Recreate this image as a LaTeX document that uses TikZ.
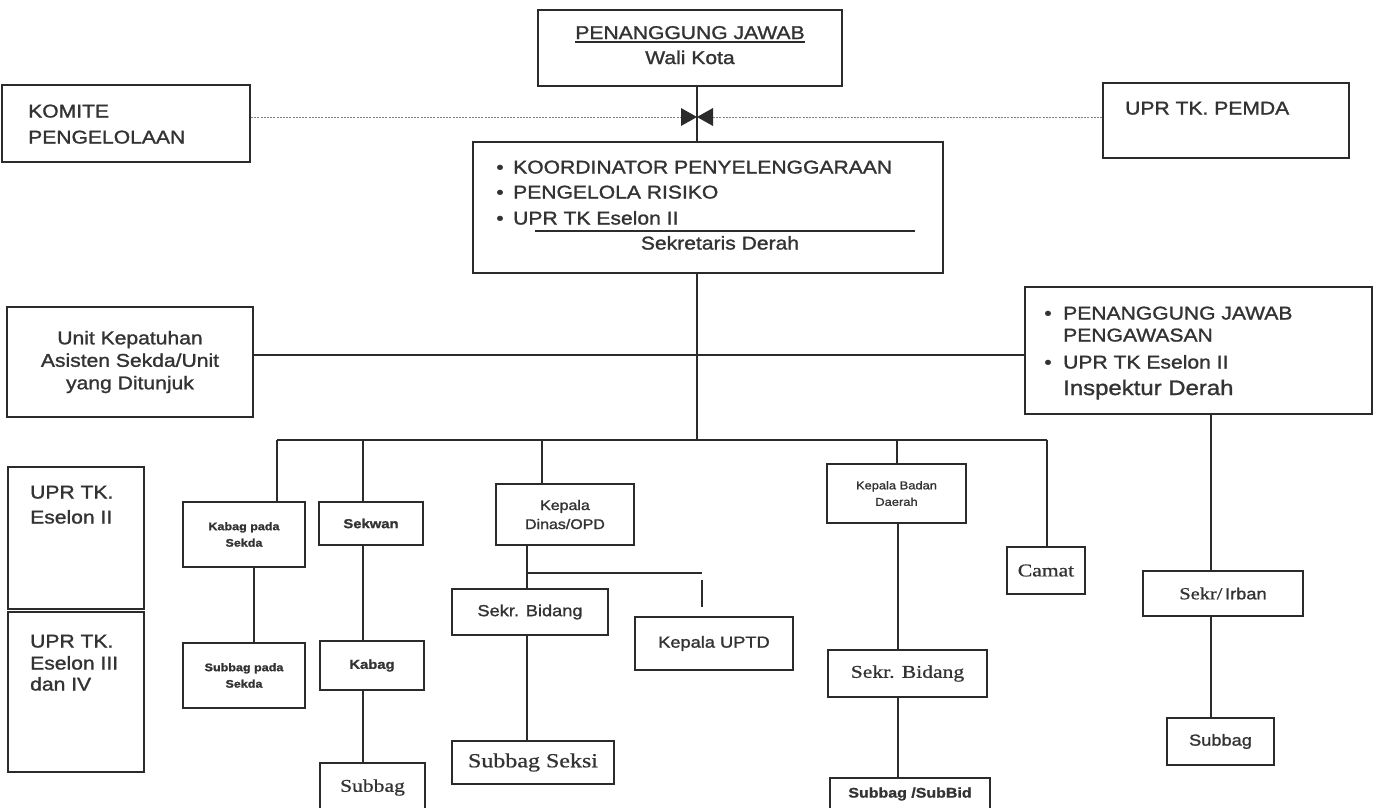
\documentclass[tikz,border=0pt]{standalone}
\usepackage{fontspec}
\setmainfont[FakeStretch=1.14,FakeBold=1.3]{Liberation Sans}
\newfontfamily\serfam[FakeStretch=1.2,FakeBold=0.8]{Liberation Serif}
\usetikzlibrary{arrows.meta}
\definecolor{ink}{HTML}{2B2B2B}
\definecolor{tcol}{HTML}{333333}
\definecolor{dotc}{HTML}{808080}
\newcommand\szA{\fontsize{18.5}{23}\selectfont}
\newcommand\szB{\fontsize{21}{25}\selectfont}
\newcommand\szSer{\serfam\fontsize{18}{22}\selectfont}
\newcommand\bx[7][]{\node[box,#1,minimum width={#4-#2},minimum height={#5-#3}] (#6) at ({(#2+#4)/2},{(#3+#5)/2}) {#7};}
\tikzset{
  box/.style={draw=ink,line width=1.8pt,inner sep=0pt,text=tcol,align=center,font=\szA},
  conn/.style={draw=ink,line width=1.8pt},
  dotl/.style={draw=dotc,line width=0.9pt,dash pattern=on 2pt off 1.2pt},
  tx/.style={text=tcol,inner sep=0pt,font=\szA}
}
\begin{document}
\begin{tikzpicture}[x=1pt,y=-1pt]
\useasboundingbox (0,0) rectangle (1379,807);
\fill[white] (0,0) rectangle (1379,807);
\clip (0,0) rectangle (1379,807);

% top level boxes
\bx{538}{10}{842}{86}{wk}{}
\node[tx,anchor=base] (wkt1) at (690,39) {PENANGGUNG JAWAB};
\draw[ink,line width=1.2pt] ([yshift=-3pt]wkt1.base west) -- ([yshift=-3pt]wkt1.base east);
\node[tx,anchor=base] (wkt2) at (690,64) {Wali Kota};

\bx{2}{85}{250}{162}{kom}{}
\node[tx,anchor=base west] (komt1) at (28,117.5) {KOMITE};
\node[tx,anchor=base west] (komt2) at (28,143.5) {PENGELOLAAN};

\bx{1103}{83}{1349}{158}{pemda}{}
\node[tx,anchor=base west] (pemdat) at (1125,114.5) {UPR TK. PEMDA};

\bx{473}{142}{943}{273}{koor}{}
\node[tx,anchor=base] (kb1) at (500,173.5) {•};
\node[tx,anchor=base] (kb2) at (500,198.5) {•};
\node[tx,anchor=base] (kb3) at (500,224.5) {•};
\node[tx,anchor=base west] (kt1) at (513,173.5) {KOORDINATOR PENYELENGGARAAN};
\node[tx,anchor=base west] (kt2) at (513,198.5) {PENGELOLA RISIKO};
\node[tx,anchor=base west] (kt3) at (513,224.5) {UPR TK Eselon II};
\coordinate (ula) at (535,231);
\coordinate (ulb) at (915,231);
\draw[ink,line width=1.4pt] (ula) -- (ulb);
\node[tx,anchor=base] (kt4) at (720,249.5) {Sekretaris Derah};

% dotted link with two tips meeting at the stem
\coordinate (junc) at (697,117);
\draw[dotl] (kom.east |- junc) -- ([xshift=-14pt]junc);
\draw[dotl] (pemda.west |- junc) -- ([xshift=14pt]junc);
\draw[conn] (wk.south -| junc) -- (koor.north -| junc);
\fill[ink] ([xshift=-16pt,yshift=9pt]junc) -- ([xshift=-16pt,yshift=-9pt]junc) -- (junc) -- cycle;
\fill[ink] ([xshift=16pt,yshift=9pt]junc) -- ([xshift=16pt,yshift=-9pt]junc) -- (junc) -- cycle;

% second level
\bx[font={\fontsize{18.5}{22.5}\selectfont}]{7}{307}{253}{417}{uk}{Unit Kepatuhan\\Asisten Sekda/Unit\\yang Ditunjuk}
\bx{1025}{287}{1372}{414}{pj}{}
\node[tx,anchor=base] (pb1) at (1048,319.5) {•};
\node[tx,anchor=base] (pb2) at (1048,368.5) {•};
\node[tx,anchor=base west] (pt1) at (1063,319.5) {PENANGGUNG JAWAB};
\node[tx,anchor=base west] (pt2) at (1063,341.5) {PENGAWASAN};
\node[tx,anchor=base west] (pt3) at (1063,368.5) {UPR TK Eselon II};
\node[tx,anchor=base west,font=\szB] (pt4) at (1063,395) {Inspektur Derah};

\coordinate (hy) at (697,355);
\coordinate (busM) at (697,440);
\draw[conn] (koor.south -| junc) -- (busM);
\draw[conn] (uk.east |- hy) -- (pj.west |- hy);

% left column
\bx{8}{467}{144}{609}{e2}{}
\node[tx,anchor=base west] (e2t1) at (30,498.5) {UPR TK.};
\node[tx,anchor=base west] (e2t2) at (30,523.5) {Eselon II};
\bx{8}{612}{144}{772}{e3}{}
\node[tx,anchor=base west] (e3t1) at (30,647.5) {UPR TK.};
\node[tx,anchor=base west] (e3t2) at (30,669.5) {Eselon III};
\node[tx,anchor=base west] (e3t3) at (30,690.5) {dan IV};

% bus
\coordinate (d1) at (277,440);
\coordinate (d2) at (363,440);
\coordinate (d3) at (542,440);
\coordinate (d4) at (897,440);
\coordinate (d5) at (1047,440);
\draw[conn] (d1) -- (d5);

% third level
\bx[font={\fontsize{11}{16.5}\selectfont\bfseries}]{183}{502}{305}{567}{kps}{Kabag pada\\Sekda}
\bx[font={\fontsize{13}{16}\selectfont\bfseries}]{319}{502}{423}{545}{sekwan}{Sekwan}
\bx[font={\fontsize{14}{19}\selectfont}]{496}{484}{634}{545}{kd}{Kepala\\Dinas/OPD}
\bx[font={\fontsize{11.3}{16.5}\selectfont}]{827}{464}{966}{523}{kbd}{Kepala Badan\\Daerah}
\bx[font=\szSer]{1007}{547}{1085}{594}{camat}{Camat}

\draw[conn] (d1) -- (kps.north -| d1);
\draw[conn] (d2) -- (sekwan.north -| d2);
\draw[conn] (d3) -- (kd.north -| d3);
\draw[conn] (d4) -- (kbd.north -| d4);
\draw[conn] (d5) -- (camat.north -| d5);

% fourth level
\bx[font={\fontsize{11}{16.5}\selectfont\bfseries}]{183}{643}{305}{708}{sps}{Subbag pada\\Sekda}
\bx[font={\fontsize{13}{16}\selectfont\bfseries}]{320}{641}{424}{690}{kabag}{Kabag}
\bx[font=\szSer]{320}{763}{425}{812}{subk}{Subbag}
\bx[font={\fontsize{16}{19}\selectfont}]{452}{589}{608}{635}{sbd}{Sekr. Bidang}
\bx[font={\fontsize{16}{19}\selectfont}]{635}{617}{793}{670}{uptd}{Kepala UPTD}
\bx[font={\serfam\fontsize{20}{24}\selectfont}]{452}{741}{614}{784}{sseksi}{Subbag Seksi}
\bx[font=\szSer]{828}{650}{987}{697}{sbb}{Sekr. Bidang}
\bx[font={\fontsize{14}{17}\selectfont\bfseries}]{830}{778}{990}{810}{ssb}{Subbag /SubBid}
\bx[font={\fontsize{16}{19}\selectfont}]{1143}{571}{1303}{616}{irban}{{\serfam\fontsize{17}{19}\selectfont Sekr/}\,Irban}
\bx[font={\fontsize{16}{19}\selectfont}]{1167}{718}{1274}{765}{subr}{Subbag}

\coordinate (v1) at (254,600);
\draw[conn] (kps.south -| v1) -- (sps.north -| v1);
\draw[conn] (sekwan.south -| d2) -- (kabag.north -| d2);
\draw[conn] (kabag.south -| d2) -- (subk.north -| d2);

\coordinate (v3) at (527,573);
\coordinate (br) at (702,573);
\coordinate (brA) at (702,580);
\coordinate (brB) at (702,607);
\draw[conn] (kd.south -| v3) -- (sbd.north -| v3);
\draw[conn] (v3) -- (br);
\draw[conn] (brA) -- (brB);
\draw[conn] (sbd.south -| v3) -- (sseksi.north -| v3);

\coordinate (v4) at (898,600);
\draw[conn] (kbd.south -| v4) -- (sbb.north -| v4);
\draw[conn] (sbb.south -| v4) -- (ssb.north -| v4);

\coordinate (v6) at (1211,600);
\draw[conn] (pj.south -| v6) -- (irban.north -| v6);
\draw[conn] (irban.south -| v6) -- (subr.north -| v6);
\end{tikzpicture}
\end{document}
